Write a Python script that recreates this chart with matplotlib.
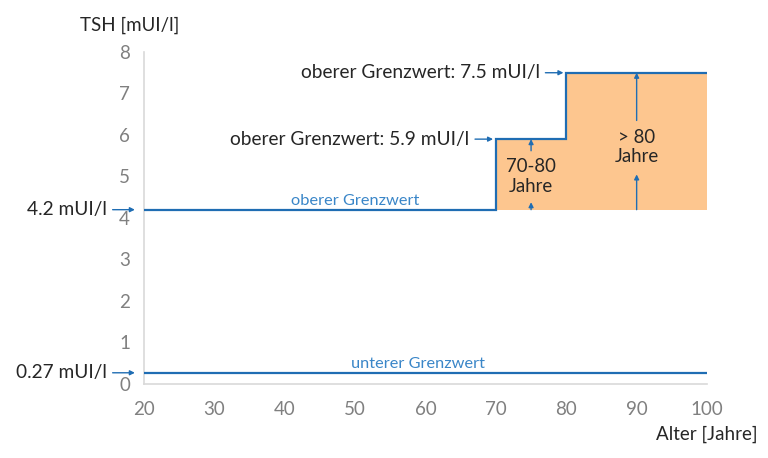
import matplotlib
matplotlib.use("Agg")
import matplotlib.pyplot as plt

# data
age_edges = [20, 70, 80, 100]
upper_limits = [4.2, 5.9, 7.5]
lower_limit = 0.27
x_ticks = [20, 30, 40, 50, 60, 70, 80, 90, 100]
y_ticks = [0, 1, 2, 3, 4, 5, 6, 7, 8]

BLUE = "#1f6db3"
LBLUE = "#3a86c8"
ORANGE = "#fdc68f"
GREY = "#808080"
DARK = "#262626"
FONT = ["Lato", "DejaVu Sans"]

plt.rcParams["font.family"] = FONT

fig = plt.figure(figsize=(7.68, 4.58), dpi=100)
ax = fig.add_axes([0.1875, 0.1616, 0.7331, 0.7249])

# orange area
ax.stairs(upper_limits[1:], age_edges[1:], baseline=upper_limits[0], fill=True,
          color=ORANGE, lw=0, zorder=1)
# upper limit step line
ax.stairs(upper_limits, age_edges, baseline=None, color=BLUE, lw=1.6, zorder=3)
# lower limit line
ax.hlines(lower_limit, age_edges[0], age_edges[-1], color=BLUE, lw=1.6, zorder=3)

ax.set_xlim(20, 100)
ax.set_ylim(0, 8)
ax.set_xticks(x_ticks)
ax.set_yticks(y_ticks)
ax.tick_params(length=0, labelsize=13.5, colors=GREY, pad=12)
ax.tick_params(axis="y", pad=10)
for s in ["top", "right"]:
    ax.spines[s].set_visible(False)
for s in ["left", "bottom"]:
    ax.spines[s].set_color("#d9d9d9")
    ax.spines[s].set_linewidth(1.2)

fig.text(80 / 768, 1 - 25 / 458, "TSH [mUI/l]", fontsize=13.5, color=DARK,
         ha="left", va="center")
fig.text(758 / 768, 1 - 434 / 458, "Alter [Jahre]", fontsize=13.5, color=DARK,
         ha="right", va="center")

arrow = dict(arrowstyle="-|>", color=BLUE, lw=1, mutation_scale=7, shrinkA=2, shrinkB=0)
FS = 13.8

# left annotations
ax.annotate("4.2 mUI/l", xy=(18.7, upper_limits[0]), xytext=(-20, 0),
            textcoords="offset points", ha="right", va="center", fontsize=FS,
            color=DARK, arrowprops=arrow, annotation_clip=False)
ax.annotate("0.27 mUI/l", xy=(18.7, lower_limit), xytext=(-20, 0),
            textcoords="offset points", ha="right", va="center", fontsize=FS,
            color=DARK, arrowprops=arrow, annotation_clip=False)
ax.annotate("oberer Grenzwert: 5.9 mUI/l", xy=(69.6, upper_limits[1]), xytext=(-17, 0),
            textcoords="offset points", ha="right", va="center", fontsize=FS,
            color=DARK, arrowprops=arrow, annotation_clip=False)
ax.annotate("oberer Grenzwert: 7.5 mUI/l", xy=(79.6, upper_limits[2]), xytext=(-17, 0),
            textcoords="offset points", ha="right", va="center", fontsize=FS,
            color=DARK, arrowprops=arrow, annotation_clip=False)

# line labels
ax.text(50, upper_limits[0] + 0.03, "oberer Grenzwert", ha="center", va="bottom",
        fontsize=11.8, color=LBLUE)
ax.text(59, lower_limit + 0.05, "unterer Grenzwert", ha="center", va="bottom",
        fontsize=11.8, color=LBLUE)

# age group labels with arrows
ax.text(75, 5.0, "70-80\nJahre", ha="center", va="center", fontsize=13.4,
        color=DARK, linespacing=1.15)
ax.text(90, 5.7, "> 80\nJahre", ha="center", va="center", fontsize=13.4,
        color=DARK, linespacing=1.15)
arrow2 = dict(arrowstyle="-|>", color=BLUE, lw=1, mutation_scale=7, shrinkA=0, shrinkB=0)
ax.annotate("", xy=(75, 4.38), xytext=(75, upper_limits[0]), arrowprops=arrow2)
ax.annotate("", xy=(75, upper_limits[1]), xytext=(75, 5.62), arrowprops=arrow2)
ax.annotate("", xy=(90, 5.05), xytext=(90, upper_limits[0]), arrowprops=arrow2)
ax.annotate("", xy=(90, upper_limits[2]), xytext=(90, 6.35), arrowprops=arrow2)

fig.savefig("out.png", dpi=100)
